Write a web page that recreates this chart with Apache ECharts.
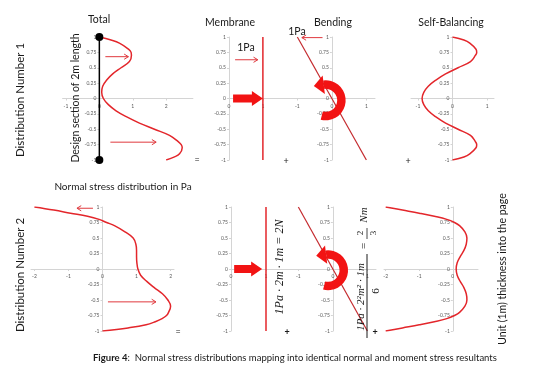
<!DOCTYPE html>
<html><head><meta charset="utf-8">
<script src="https://cdn.jsdelivr.net/npm/echarts@6/dist/echarts.min.js"></script>
<style>html,body{margin:0;padding:0;background:#fff}#c{width:540px;height:376px}</style>
</head><body><div id="c"></div>
<script>
// ---------- data ----------
const yLevels1 = [1, 0.95, 0.9, 0.8, 0.75, 0.7, 0.6, 0.5, 0.4, 0.3, 0.2, 0.1, 0, -0.1, -0.2, -0.3, -0.4, -0.5, -0.6, -0.7, -0.75, -0.8, -0.9, -0.95, -1];
const total1X  = [0, 0.35, 0.6, 0.88, 0.95, 0.96, 0.9, 0.65, 0.4, 0.22, 0.1, 0.07, 0.12, 0.27, 0.5, 0.82, 1.2, 1.65, 2.1, 2.36, 2.45, 2.48, 2.4, 2.25, 2.0];
const sb1X     = [0, 0.33, 0.5, 0.68, 0.7, 0.66, 0.52, 0.16, -0.2, -0.48, -0.7, -0.83, -0.88, -0.83, -0.7, -0.48, -0.2, 0.16, 0.52, 0.66, 0.7, 0.68, 0.5, 0.33, 0];
const yLevels2 = [1, 0.95, 0.9, 0.85, 0.8, 0.75, 0.7, 0.6, 0.5, 0.4, 0.3, 0.2, 0.1, 0, -0.1, -0.2, -0.3, -0.4, -0.5, -0.6, -0.7, -0.75, -0.8, -0.85, -0.9, -0.95, -1];
const total2X  = [-2, -1.43, -0.94, -0.44, -0.1, 0.12, 0.35, 0.66, 0.9, 0.98, 1.0, 1.0, 1.01, 1.04, 1.12, 1.3, 1.52, 1.76, 1.92, 2.0, 1.94, 1.88, 1.75, 1.55, 1.28, 0.75, 0];
const sb2X     = [-2, -1.5, -1.0, -0.55, -0.18, 0.05, 0.2, 0.36, 0.42, 0.4, 0.33, 0.22, 0.13, 0.1, 0.13, 0.22, 0.33, 0.4, 0.42, 0.36, 0.2, 0.05, -0.18, -0.55, -1.0, -1.5, -2];
const membraneX = [1, 1];
const membraneY = [1, -1];
const bendingX  = [-1, 1];
const bendingY  = [1, -1];
const sectionX  = [0, 0];
const sectionY  = [1, -1];
const xTicksTotal1   = [-1, 0, 1, 2];
const xTicksMembrane = [0, 1];
const xTicksBending  = [-1, 0, 1];
const xTicksSB1      = [-1, 0, 1];
const xTicksTotal2   = [-2, -1, 0, 1, 2];
const xTicksSB2      = [-2, -1, 0];

// ---------- layout / style ----------
const FONT = 'Lato, "Open Sans", sans-serif';
const MATH = '"Liberation Serif", "DejaVu Serif", serif';
const AXIS_C = '#d4d4d4', LABEL_C = '#595959', RED = '#e3262b', DARK_RED = '#c42a2e', BIG_RED = '#f21313', INK = '#1a1a1a';

const panels = [
  {grid: {left: 62.6, top: 37, width: 130.3, height: 123}, x: [-1.1, 2.8], ticks: xTicksTotal1},
  {grid: {left: 229, top: 37, width: 61, height: 123}, x: [0, 1.8], ticks: xTicksMembrane},
  {grid: {left: 287, top: 37, width: 88, height: 123}, x: [-1.3, 1.25], ticks: xTicksBending},
  {grid: {left: 411, top: 37, width: 83, height: 123}, x: [-1.2, 1.2], ticks: xTicksSB1},
  {grid: {left: 31, top: 207, width: 143, height: 124}, x: [-2.1, 2.1], ticks: xTicksTotal2},
  {grid: {left: 231, top: 207, width: 63, height: 124}, x: [0, 1.8], ticks: xTicksMembrane},
  {grid: {left: 288, top: 207, width: 88, height: 124}, x: [-1.3, 1.25], ticks: xTicksBending},
  {grid: {left: 384, top: 207, width: 94, height: 124}, x: [-2.05, 0.75], ticks: xTicksSB2}
];

const zip = (xs, ys) => xs.map((v, i) => [v, ys[i]]);

const grid = panels.map(p => Object.assign({outerBoundsMode: 'none', containLabel: false}, p.grid));
// axes are moved onto the zero lines with a (negative) offset so that their labels travel with them
const xAxis = panels.map((p, i) => ({
  gridIndex: i, type: 'value', min: p.x[0], max: p.x[1], position: 'bottom',
  offset: -p.grid.height / 2,
  axisLine: {onZero: false, lineStyle: {color: AXIS_C, width: 1}},
  axisTick: {show: true, customValues: p.ticks, length: 2, lineStyle: {color: AXIS_C}},
  axisLabel: {customValues: p.ticks, fontSize: 5, color: LABEL_C, margin: 5, fontFamily: FONT},
  splitLine: {show: false}
}));
const yAxis = panels.map((p, i) => ({
  gridIndex: i, type: 'value', min: -1, max: 1, interval: 0.25, position: 'left',
  offset: -((0 - p.x[0]) / (p.x[1] - p.x[0])) * p.grid.width,
  axisLine: {onZero: false, lineStyle: {color: AXIS_C, width: 1}},
  axisTick: {show: true, length: 2, lineStyle: {color: AXIS_C}},
  axisLabel: {fontSize: 5, color: LABEL_C, margin: 3, fontFamily: FONT},
  splitLine: {show: false}
}));

function lineSeries(idx, data, color, width, smooth) {
  return {type: 'line', xAxisIndex: idx, yAxisIndex: idx, data, showSymbol: false, smooth: smooth,
    lineStyle: {color, width}, itemStyle: {color}, silent: true, z: 3};
}

const series = [
  lineSeries(0, zip(total1X, yLevels1), RED, 1.5, 0.4),
  {type: 'line', xAxisIndex: 0, yAxisIndex: 0, data: zip(sectionX, sectionY), symbol: 'circle', symbolSize: 8,
   showSymbol: true, lineStyle: {color: '#000', width: 1.5}, itemStyle: {color: '#000'}, z: 4},
  lineSeries(1, zip(membraneX, membraneY), RED, 1.5, false),
  lineSeries(2, zip(bendingX, bendingY), DARK_RED, 1.2, false),
  lineSeries(3, zip(sb1X, yLevels1), RED, 1.5, 0.4),
  lineSeries(4, zip(total2X, yLevels2), RED, 1.5, 0.4),
  lineSeries(5, zip(membraneX, membraneY), RED, 1.5, false),
  lineSeries(6, zip(bendingX, bendingY), DARK_RED, 1.2, false),
  lineSeries(7, zip(sb2X, yLevels2), RED, 1.5, 0.4)
];

const chart = echarts.init(document.getElementById('c'), null, {renderer: 'canvas', width: 540, height: 376});
chart.setOption({animation: false, backgroundColor: '#fff', grid, xAxis, yAxis, series});

// ---------- annotations ----------
const px = (g, x, y) => chart.convertToPixel({gridIndex: g}, [x, y]);
const G = [];

function text(x, y, t, size, opts) {
  opts = opts || {};
  G.push({type: 'text', x, y, rotation: opts.rot || 0, z: 10, style: {
    text: t, fontSize: size, fontFamily: opts.fam || FONT, fontStyle: opts.italic ? 'italic' : 'normal',
    fontWeight: opts.bold ? 'bold' : 'normal', fill: opts.color || INK,
    align: opts.align || 'center', verticalAlign: 'middle', rich: opts.rich}});
}
function vtext(x, y, t, size, opts) { opts = Object.assign({}, opts || {}, {rot: Math.PI / 2}); text(x, y, t, size, opts); }

function thinArrow(g, x1, y1, x2, y2) {
  const a = px(g, x1, y1), b = px(g, x2, y2);
  const ang = Math.atan2(b[1] - a[1], b[0] - a[0]);
  const L = 5, w = 0.55;
  const p1 = [b[0] - L * Math.cos(ang - w), b[1] - L * Math.sin(ang - w)];
  const p2 = [b[0] - L * Math.cos(ang + w), b[1] - L * Math.sin(ang + w)];
  G.push({type: 'line', z: 9, shape: {x1: a[0], y1: a[1], x2: b[0], y2: b[1]}, style: {stroke: '#e0393e', lineWidth: 1}});
  G.push({type: 'polyline', z: 9, shape: {points: [p1, b, p2]}, style: {stroke: '#e0393e', lineWidth: 1, fill: null}});
}
function bigArrow(g, x1, x2, y) {
  const a = px(g, x1, y), b = px(g, x2, y);
  const hl = 11, sh = 4, hh = 7.5;
  G.push({type: 'polygon', z: 9, shape: {points: [
    [a[0], a[1] - sh], [b[0] - hl, a[1] - sh], [b[0] - hl, a[1] - hh], [b[0], a[1]],
    [b[0] - hl, a[1] + hh], [b[0] - hl, a[1] + sh], [a[0], a[1] + sh]]}, style: {fill: BIG_RED}});
}
function curvedArrow(g, x, y) {
  const c = px(g, x, y);
  const r = 20, r0 = 11.5;
  const a0 = -Math.PI / 2 - 0.12, a1 = Math.PI / 2 + 0.25;
  G.push({type: 'sector', z: 9, shape: {cx: c[0], cy: c[1], r, r0, startAngle: a0, endAngle: a1, clockwise: true}, style: {fill: BIG_RED}});
  const rm = (r + r0) / 2;
  const base1 = [c[0] + (r0 - 5) * Math.cos(a0), c[1] + (r0 - 5) * Math.sin(a0)];
  const base2 = [c[0] + (r + 5) * Math.cos(a0), c[1] + (r + 5) * Math.sin(a0)];
  const mid = [c[0] + rm * Math.cos(a0), c[1] + rm * Math.sin(a0)];
  const t = [Math.sin(a0), -Math.cos(a0)];
  const tip = [mid[0] + 10 * t[0], mid[1] + 10 * t[1]];
  G.push({type: 'polygon', z: 9, shape: {points: [base1, base2, tip]}, style: {fill: BIG_RED}});
}

// titles
text(99, 20, 'Total', 10.5);
text(230, 23, 'Membrane', 10.5);
text(333, 23, 'Bending', 10.5);
text(451, 23, 'Self-Balancing', 10.5);
text(123, 187, 'Normal stress distribution in Pa', 10);
vtext(20, 100, 'Distribution Number 1', 11.5);
vtext(20, 275, 'Distribution Number 2', 11.5);
vtext(76, 98, 'Design section of 2m length', 10.5);
vtext(503, 269, 'Unit (1m) thickness into the page', 10.5);
text(246, 48, '1Pa', 10.5);
text(297, 32, '1Pa', 10.5);
text(197, 160, '=', 9);
text(286, 161, '+', 9);
text(408, 161, '+', 9);
text(178, 332, '=', 9);
text(287, 332, '+', 9, {bold: true});
text(375, 332, '+', 9, {bold: true});

// formulas
vtext(280, 267, '1Pa · 2m · 1m = 2N', 12, {fam: MATH, italic: true});
vtext(361, 297, '1Pa · 2²m² · 1m', 11, {fam: MATH, italic: true});
G.push({type: 'line', z: 10, shape: {x1: 367, y1: 254, x2: 367, y2: 338}, style: {stroke: INK, lineWidth: 1}});
vtext(376, 291, '6', 11, {fam: MATH});
vtext(364, 246, '=', 11, {fam: MATH});
vtext(361, 233, '2', 9, {fam: MATH});
G.push({type: 'line', z: 10, shape: {x1: 367, y1: 228, x2: 367, y2: 239}, style: {stroke: INK, lineWidth: 0.8}});
vtext(374, 233, '3', 9, {fam: MATH});
vtext(364, 215, 'Nm', 11, {fam: MATH, italic: true});

// caption
text(93, 358, '{b|Figure 4}:  Normal stress distributions mapping into identical normal and moment stress resultants', 9.5,
  {align: 'left', rich: {b: {fontWeight: 'bold', fontSize: 9.5, fontFamily: FONT, fill: INK}}});

// arrows
thinArrow(0, 0.18, 0.68, 0.87, 0.68);
thinArrow(0, 0.33, -0.71, 1.7, -0.71);
thinArrow(1, 0.18, 0.63, 0.85, 0.63);
thinArrow(2, -0.27, 0.99, -0.87, 0.99);
thinArrow(4, -0.28, 0.98, -0.75, 0.98);
thinArrow(4, 0.16, -0.53, 1.57, -0.53);
bigArrow(1, 0.12, 1.0, 0);
bigArrow(5, 0.09, 0.89, 0);
curvedArrow(2, -0.18, -0.03);
curvedArrow(6, -0.14, -0.02);

chart.setOption({graphic: {elements: G}});
</script></body></html>
